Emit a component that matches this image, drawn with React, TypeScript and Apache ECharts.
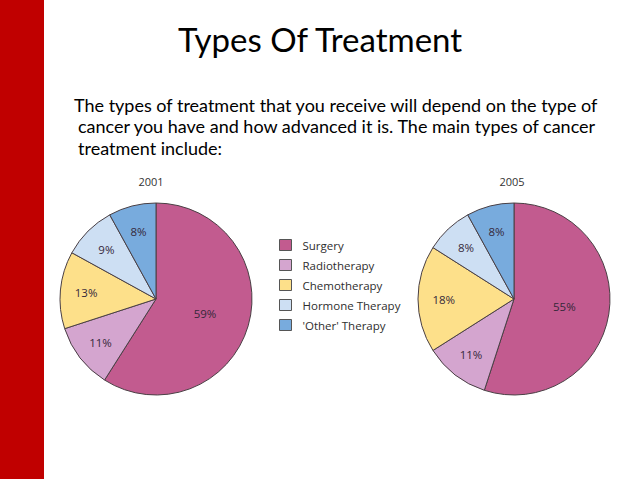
import React, { useEffect, useRef } from "react";
import * as echarts from "echarts";

const categories = ["Surgery", "Radiotherapy", "Chemotherapy", "Hormone Therapy", "'Other' Therapy"];
const values2001 = [59, 11, 13, 9, 8];
const values2005 = [55, 11, 18, 8, 8];
const years = ["2001", "2005"];
const colors = ["#C25B8F", "#D4A5CF", "#FDE08A", "#CDDFF3", "#78ABDD"];
const titleText = "Types Of Treatment";
const paragraphLines = [
  "The types of treatment that you receive will depend on the type of",
  "cancer you have and how advanced it is. The main types of cancer",
  "treatment include:",
];

const pieFont = "'Open Sans', 'Noto Sans', sans-serif";
const slideFont = "Lato, 'Open Sans', sans-serif";

function makePieSeries(values: number[], center: [number, number], r: number) {
  const data = categories.map((name, i) => ({
    name,
    value: values[i],
    itemStyle: { color: colors[i] },
    label: { show: i === 0 },
  }));
  const labelData = categories.map((name, i) => ({
    name,
    value: values[i],
    label: { show: i !== 0 },
  }));
  return [
    {
      type: "pie",
      center,
      radius: [0, r],
      startAngle: 90,
      clockwise: true,
      data,
      itemStyle: { borderColor: "#4a4045", borderWidth: 1 },
      label: {
        position: "inside",
        formatter: "{c}%",
        color: "#35283a",
        fontFamily: pieFont,
        fontSize: 11.5,
      },
      labelLine: { show: false },
      emphasis: { disabled: true },
    },
    {
      type: "pie",
      center,
      radius: [r * 0.4, r],
      startAngle: 90,
      clockwise: true,
      silent: true,
      data: labelData,
      itemStyle: { color: "rgba(0,0,0,0)", borderWidth: 0 },
      label: {
        position: "inside",
        formatter: "{c}%",
        color: "#35283a",
        fontFamily: pieFont,
        fontSize: 11.5,
      },
      labelLine: { show: false },
      emphasis: { disabled: true },
      legendHoverLink: false,
    },
  ];
}

export default function App() {
  const ref = useRef<HTMLDivElement>(null);
  useEffect(() => {
    if (!ref.current) return;
    const chart = echarts.init(ref.current, undefined, { renderer: "svg" });
    const pieR = 96;
    chart.setOption({
      animation: false,
      backgroundColor: "#ffffff",
      graphic: [
        {
          type: "rect",
          shape: { x: 0, y: 0, width: 44, height: 479 },
          style: { fill: "#C00000" },
          silent: true,
        },
        {
          type: "text",
          x: 320,
          y: 39,
          style: {
            text: titleText,
            fontFamily: slideFont,
            fontSize: 33,
            fill: "#000000",
            align: "center",
            verticalAlign: "middle",
          },
        },
        ...paragraphLines.map((line, i) => ({
          type: "text",
          x: i === 0 ? 74 : 78,
          y: [105, 126, 148][i],
          style: {
            text: line,
            fontFamily: slideFont,
            fontSize: 18,
            fill: "#000000",
            align: "left",
            verticalAlign: "middle",
          },
        })),
      ],
      title: [
        {
          text: years[0],
          left: 151,
          top: 176,
          padding: 0,
          textAlign: "center",
          textStyle: { fontFamily: pieFont, fontSize: 11, fontWeight: "normal", color: "#333333" },
        },
        {
          text: years[1],
          left: 512,
          top: 176,
          padding: 0,
          textAlign: "center",
          textStyle: { fontFamily: pieFont, fontSize: 11, fontWeight: "normal", color: "#333333" },
        },
      ],
      legend: {
        orient: "vertical",
        left: 279,
        top: 239,
        padding: 0,
        itemWidth: 12,
        itemHeight: 11,
        itemGap: 8,
        icon: "rect",
        data: categories,
        selectedMode: false,
        itemStyle: { borderColor: "#555555", borderWidth: 1 },
        textStyle: {
          fontFamily: pieFont,
          fontSize: 11.5,
          color: "#2e2e2e",
          lineHeight: 11,
          padding: [0, 0, 0, 6],
        },
      },
      series: [
        ...makePieSeries(values2001, [156, 299], pieR),
        ...makePieSeries(values2005, [514, 299], pieR),
      ],
    });
    return () => chart.dispose();
  }, []);
  return (
    <div
      ref={ref}
      style={{ position: "absolute", left: 0, top: 0, width: 638, height: 479 }}
    />
  );
}
